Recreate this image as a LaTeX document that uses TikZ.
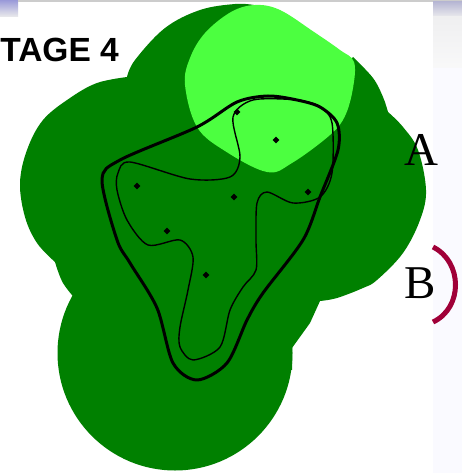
\documentclass[tikz,border=0pt]{standalone}
\usepackage{fontspec}
\setmainfont{Liberation Serif}
\newfontfamily\labelsans{Liberation Sans}
\definecolor{darkg}{HTML}{008000}
\definecolor{lightg}{HTML}{4CFF40}
\definecolor{arcred}{HTML}{A00038}
\tikzset{
  lobe/.style={fill=darkg,draw=none},
  sitedot/.style={diamond,fill=black,inner sep=0pt,minimum size=7pt},
  letterlabel/.style={font=\fontsize{47}{47}\selectfont,inner sep=0pt,anchor=base west},
}
\usetikzlibrary{shapes.geometric}
\begin{document}
\begin{tikzpicture}[x=1pt,y=-1pt]
\useasboundingbox (0,0) rectangle (462,473);
\clip (0,0) rectangle (462,473);
\fill[white] (0,0) rectangle (462,473);
% slide remnants
\fill[top color=gray!55!blue!55,bottom color=gray!15] (0,0) rectangle (18,17);
\fill[gray!40] (18,0) rectangle (462,2);
\fill[top color=blue!25!gray!45,bottom color=blue!8!gray!15] (433,2) rectangle (462,17);
\fill[top color=blue!4!gray!12,bottom color=blue!3!gray!5] (433,17) rectangle (462,68);
\fill[blue!2!white] (433,68) rectangle (462,473);
% dark territory
\fill[lobe] (175,353) circle (117.5);
\fill[lobe] plot[smooth,tension=.6] coordinates {(127,77)(135,60)(165,28)(200,10)(235,4)(254,5)}
  -- (280,40) -- (340,70)
  -- plot[smooth,tension=.6] coordinates {(353,57)(373,78)(383,97)(388,112)}
  -- plot[smooth,tension=.6] coordinates {(388,112)(403,127)(418,150)(426,190)(420,220)(403,253)(377,280)(363,288)(337,298)(320,301)}
  -- (310,323) -- (292,348) -- (292,370) -- (175,352) -- (78,302)
  -- plot[smooth,tension=.6] coordinates {(78,302)(63,283)(55,262)}
  -- plot[smooth,tension=.6] coordinates {(55,262)(37,243)(25,217)(20,183)(27,150)(43,120)(70,98)(97,83)(127,77)}
  -- cycle;
% light patch
\fill[lightg] plot[smooth cycle,tension=.6] coordinates {(255,5)(231,12)(205,33)(190,58)(185,85)(197,127)(225,151)(267,172)(292,163)(330,135)(345,116)(353,88)(354,62)(340,50)(314,32)(280,10)};
% thick outline
\draw[line width=3pt,black,line join=round] plot[smooth cycle,tension=.5] coordinates {(268,96)(237,102)(197,127)(120,160)(102,180)(117,240)(130,263)(157,308)(173,363)(197,380)(227,363)(247,320)(263,293)(303,240)(320,197)(338,150)(337,123)(320,107)(297,100)};
% thin outline
\draw[line width=1.4pt,black,line join=round] plot[smooth cycle,tension=.5] coordinates {(253,100)(233,117)(240,157)(230,177)(190,179)(130,162)(118,173)(117,190)(127,220)(148,245)(180,240)(193,257)(188,290)(180,327)(180,347)(193,360)(220,347)(230,310)(243,287)(256,270)(256,240)(257,203)(267,192)(293,203)(320,197)(332,173)(332,123)(320,107)(297,100)};
% sites
\node[sitedot] (s1) at (237,112) {};
\node[sitedot] (s2) at (276,140) {};
\node[sitedot] (s3) at (137,186) {};
\node[sitedot] (s4) at (234,197) {};
\node[sitedot] (s5) at (308,192) {};
\node[sitedot] (s6) at (167,231) {};
\node[sitedot] (s7) at (206,275) {};
% labels
\node[inner sep=0pt,anchor=base east,font=\labelsans\bfseries\fontsize{33.5}{33.5}\selectfont] (stage) at (119,62) {TAGE 4};
\node[letterlabel] (a) at (404,165) {A};
\node[letterlabel] (b) at (404,298) {B};
\draw[arcred,line width=5pt] (433,247) .. controls (463,262) and (463,308) .. (433,322);
\end{tikzpicture}
\end{document}
